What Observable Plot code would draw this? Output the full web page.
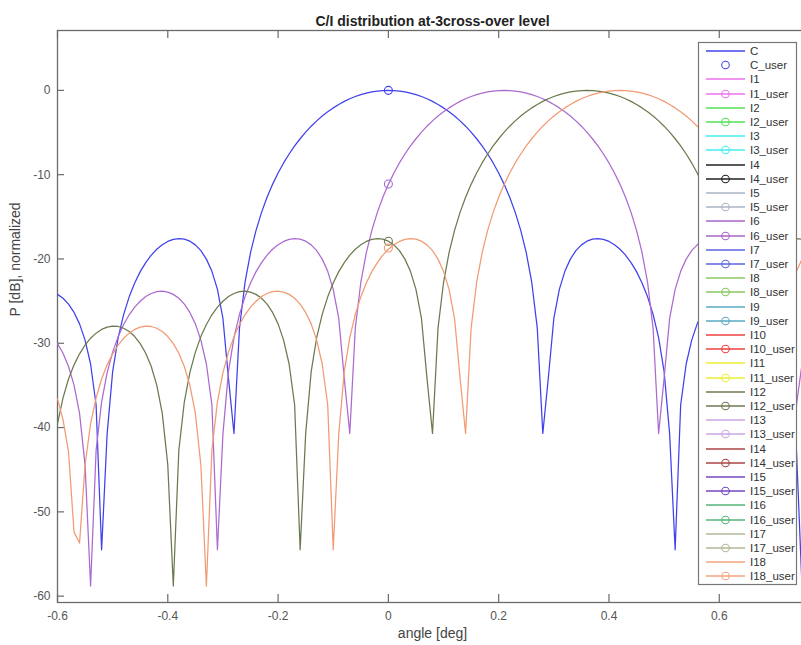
<!DOCTYPE html>
<html>
<head>
<meta charset="utf-8">
<script src="https://cdn.jsdelivr.net/npm/d3@7"></script>
<script src="https://cdn.jsdelivr.net/npm/@observablehq/plot@0.6"></script>
<style>
  html, body { margin: 0; padding: 0; background: #fff; overflow: hidden; }
  #chart { width: 807px; }
  #chart svg { display: block; max-width: none !important; width: 807px; height: 645px; }
</style>
</head>
<body>
<div id="chart"></div>
<script>
const titleText = "C/I distribution at-3cross-over level";
const xLabel = "angle [deg]";
const yLabel = "P [dB], normalized";
const xTicks = [-0.6, -0.4, -0.2, 0, 0.2, 0.4, 0.6];
const yTicks = [0, -10, -20, -30, -40, -50, -60];

const angle = [
  -0.6,-0.59,-0.58,-0.57,-0.56,-0.55,-0.54,-0.53,-0.52,-0.51,
  -0.5,-0.49,-0.48,-0.47,-0.46,-0.45,-0.44,-0.43,-0.42,-0.41,
  -0.4,-0.39,-0.38,-0.37,-0.36,-0.35,-0.34,-0.33,-0.32,-0.31,
  -0.3,-0.29,-0.28,-0.27,-0.26,-0.25,-0.24,-0.23,-0.22,-0.21,
  -0.2,-0.19,-0.18,-0.17,-0.16,-0.15,-0.14,-0.13,-0.12,-0.11,
  -0.1,-0.09,-0.08,-0.07,-0.06,-0.05,-0.04,-0.03,-0.02,-0.01,
  0,
  0.01,0.02,0.03,0.04,0.05,0.06,0.07,0.08,0.09,0.1,
  0.11,0.12,0.13,0.14,0.15,0.16,0.17,0.18,0.19,0.2,
  0.21,0.22,0.23,0.24,0.25,0.26,0.27,0.28,0.29,0.3,
  0.31,0.32,0.33,0.34,0.35,0.36,0.37,0.38,0.39,0.4,
  0.41,0.42,0.43,0.44,0.45,0.46,0.47,0.48,0.49,0.5,
  0.51,0.52,0.53,0.54,0.55,0.56,0.57,0.58,0.59,0.6,
  0.61,0.62,0.63,0.64,0.65,0.66,0.67,0.68,0.69,0.7,
  0.71,0.72,0.73,0.74,0.75,0.76
];

// C (carrier beam)
const cDb = [
  -24.2,-24.66,-25.36,-26.34,-27.7,-29.63,-32.46,-37.32,
  -54.5,-40.75,-33.37,-29.34,-26.57,-24.49,-22.84,-21.5,-20.43,-19.55,
  -18.85,-18.31,-17.92,-17.67,-17.58,-17.64,-17.89,-18.33,-19.01,-20.02,
  -21.47,-23.6,-27.06,-34.13,-40.7,-28.21,-22.79,-19.26,-16.61,-14.47,
  -12.69,-11.15,-9.8,-8.61,-7.55,-6.59,-5.74,-4.96,-4.25,-3.62,
  -3.05,-2.54,-2.08,-1.67,-1.31,-1.0,-0.73,-0.5,-0.32,-0.18,
  -0.08,-0.02,0,
  -0.02,-0.08,-0.18,-0.32,-0.5,-0.73,-1.0,-1.31,-1.67,-2.08,
  -2.54,-3.05,-3.62,-4.25,-4.96,-5.74,-6.59,-7.55,-8.61,-9.8,
  -11.15,-12.69,-14.47,-16.61,-19.26,-22.79,-28.21,-40.7,-34.13,-27.06,
  -23.6,-21.47,-20.02,-19.01,-18.33,-17.89,-17.64,-17.58,-17.67,-17.92,
  -18.31,-18.85,-19.55,-20.43,-21.5,-22.84,-24.49,-26.57,-29.34,-33.37,
  -40.75,-54.5,-37.32,-32.46,-29.63,-27.7,-26.34,-25.36,-24.66,-24.2,
  -23.93,-23.81,-23.88,-24.1,-24.46,-25.01,-25.71,-26.62,-27.77,-29.21,
  -31.05,-33.48,-36.94,-42.71,-58.8,-44.46
];

// I6 (purple)
const i6Db = [
  -30.04,-31.19,-32.75,-34.97,-38.32,-44.46,-58.8,-42.71,-36.94,
  -33.48,-31.05,-29.21,-27.77,-26.62,-25.71,-25.01,-24.46,-24.1,-23.88,
  -23.81,-23.93,-24.2,-24.66,-25.36,-26.34,-27.7,-29.63,-32.46,-37.32,
  -54.5,-40.75,-33.37,-29.34,-26.57,-24.49,-22.84,-21.5,-20.43,-19.55,
  -18.85,-18.31,-17.92,-17.67,-17.58,-17.64,-17.89,-18.33,-19.01,-20.02,
  -21.47,-23.6,-27.06,-34.13,-40.7,-28.21,-22.79,-19.26,-16.61,-14.47,
  -12.69,-11.15,-9.8,-8.61,-7.55,-6.59,-5.74,-4.96,-4.25,-3.62,
  -3.05,-2.54,-2.08,-1.67,-1.31,-1.0,-0.73,-0.5,-0.32,-0.18,
  -0.08,-0.02,0,
  -0.02,-0.08,-0.18,-0.32,-0.5,-0.73,-1.0,-1.31,-1.67,-2.08,
  -2.54,-3.05,-3.62,-4.25,-4.96,-5.74,-6.59,-7.55,-8.61,-9.8,
  -11.15,-12.69,-14.47,-16.61,-19.26,-22.79,-28.21,-40.7,-34.13,-27.06,
  -23.6,-21.47,-20.02,-19.01,-18.33,-17.89,-17.64,-17.58,-17.67,-17.92,
  -18.31,-18.85,-19.55,-20.43,-21.5,-22.84,-24.49,-26.57,-29.34,-33.37,
  -40.75,-54.5,-37.32,-32.46,-29.63
];

// I12 (olive)
const i12Db = [
  -39.53,-36.47,-34.24,-32.56,
  -31.25,-30.21,-29.4,-28.8,-28.36,-28.08,-27.97,-28.01,-28.22,-28.61,
  -29.2,-30.04,-31.19,-32.75,-34.97,-38.32,-44.46,-58.8,-42.71,-36.94,
  -33.48,-31.05,-29.21,-27.77,-26.62,-25.71,-25.01,-24.46,-24.1,-23.88,
  -23.81,-23.93,-24.2,-24.66,-25.36,-26.34,-27.7,-29.63,-32.46,-37.32,
  -54.5,-40.75,-33.37,-29.34,-26.57,-24.49,-22.84,-21.5,-20.43,-19.55,
  -18.85,-18.31,-17.92,-17.67,-17.58,-17.64,-17.89,-18.33,-19.01,-20.02,
  -21.47,-23.6,-27.06,-34.13,-40.7,-28.21,-22.79,-19.26,-16.61,-14.47,
  -12.69,-11.15,-9.8,-8.61,-7.55,-6.59,-5.74,-4.96,-4.25,-3.62,
  -3.05,-2.54,-2.08,-1.67,-1.31,-1.0,-0.73,-0.5,-0.32,-0.18,
  -0.08,-0.02,0,
  -0.02,-0.08,-0.18,-0.32,-0.5,-0.73,-1.0,-1.31,-1.67,-2.08,
  -2.54,-3.05,-3.62,-4.25,-4.96,-5.74,-6.59,-7.55,-8.61,-9.8,
  -11.15,-12.69,-14.47,-16.61,-19.26,-22.79,-28.21,-40.7,-34.13,-27.06,
  -23.6,-21.47,-20.02,-19.01,-18.33,-17.89,-17.64,-17.58,-17.67,-17.92
];

// I18 (orange)
const i18Db = [
  -36.6,-39.06,-42.9,-52.4,-53.7,-44.44,-39.53,-36.47,-34.24,-32.56,
  -31.25,-30.21,-29.4,-28.8,-28.36,-28.08,-27.97,-28.01,-28.22,-28.61,
  -29.2,-30.04,-31.19,-32.75,-34.97,-38.32,-44.46,-58.8,-42.71,-36.94,
  -33.48,-31.05,-29.21,-27.77,-26.62,-25.71,-25.01,-24.46,-24.1,-23.88,
  -23.81,-23.93,-24.2,-24.66,-25.36,-26.34,-27.7,-29.63,-32.46,-37.32,
  -54.5,-40.75,-33.37,-29.34,-26.57,-24.49,-22.84,-21.5,-20.43,-19.55,
  -18.85,-18.31,-17.92,-17.67,-17.58,-17.64,-17.89,-18.33,-19.01,-20.02,
  -21.47,-23.6,-27.06,-34.13,-40.7,-28.21,-22.79,-19.26,-16.61,-14.47,
  -12.69,-11.15,-9.8,-8.61,-7.55,-6.59,-5.74,-4.96,-4.25,-3.62,
  -3.05,-2.54,-2.08,-1.67,-1.31,-1.0,-0.73,-0.5,-0.32,-0.18,
  -0.08,-0.02,0,
  -0.02,-0.08,-0.18,-0.32,-0.5,-0.73,-1.0,-1.31,-1.67,-2.08,
  -2.54,-3.05,-3.62,-4.25,-4.96,-5.74,-6.59,-7.55,-8.61,-9.8,
  -11.15,-12.69,-14.47,-16.61,-19.26,-22.79,-28.21,-40.7,-34.13,-27.06,
  -23.6,-21.47,-20.02,-19.01
];

// user points (angle 0)
const userAngle = [0, 0, 0, 0];
const userDb = [0, -11.1, -17.9, -18.7];

// legend
const legendNames = ["C","C_user","I1","I1_user","I2","I2_user","I3","I3_user","I4","I4_user",
  "I5","I5_user","I6","I6_user","I7","I7_user","I8","I8_user","I9","I9_user",
  "I10","I10_user","I11","I11_user","I12","I12_user","I13","I13_user","I14","I14_user",
  "I15","I15_user","I16","I16_user","I17","I17_user","I18","I18_user"];
const seriesColors = ["#4545ee","#ee70ee","#55df55","#44eeee","#222222","#aab4c6","#a866c8",
  "#5865e0","#8ac960","#5aaac4","#ef4040","#eeee33","#6f7a50","#cba6e3","#aa4545",
  "#7448c4","#55b577","#b5b797","#f1a67e"];

const curveColors = {C: "#4040ee", I6: "#ab6ad0", I12: "#6b7a4e", I18: "#f29a72"};

const mk = (arr) => angle.map((a, i) => ({angle: a, db: arr[i]}));
const series = [
  {name: "C", data: mk(cDb), color: curveColors.C, u: 0},
  {name: "I6", data: mk(i6Db), color: curveColors.I6, u: 1},
  {name: "I12", data: mk(i12Db), color: curveColors.I12, u: 2},
  {name: "I18", data: mk(i18Db), color: curveColors.I18, u: 3}
];

const font = "Liberation Sans, Arial, Helvetica, sans-serif";
const axisColor = "#6a6a6a";

const marks = [
  Plot.frame({stroke: axisColor, strokeWidth: 1.3}),
  Plot.tickX(xTicks, {x: d => d, insetTop: 564, stroke: axisColor, strokeWidth: 1.2}),
  Plot.tickX(xTicks, {x: d => d, insetBottom: 564, stroke: axisColor, strokeWidth: 1.2}),
  Plot.tickY(yTicks, {y: d => d, insetRight: 743, stroke: axisColor, strokeWidth: 1.2}),
  Plot.axisX({ticks: xTicks, tickSize: 0, tickPadding: 9, tickFormat: d => String(d), label: null, fill: "#555", fontSize: 12}),
  Plot.axisY({ticks: yTicks, tickSize: 0, tickPadding: 7, tickFormat: d => String(d), label: null, fill: "#555", fontSize: 12})
];
for (const s of series) {
  marks.push(Plot.line(s.data, {x: "angle", y: "db", stroke: s.color, strokeWidth: 1.25, clip: true}));
  marks.push(Plot.dot([0], {x: () => userAngle[s.u], y: () => userDb[s.u], r: 4, stroke: s.color, fill: "none", strokeWidth: 1.1}));
}
marks.push(
  Plot.text([titleText], {frameAnchor: "top", dy: -14, fontWeight: "bold", fontSize: 14, fill: "#222"}),
  Plot.text([xLabel], {frameAnchor: "bottom", dy: 35, fontSize: 14, fill: "#444"}),
  Plot.text([yLabel], {frameAnchor: "left", dx: -42, rotate: -90, fontSize: 14, fill: "#444"})
);

const plot = Plot.plot({
  width: 807,
  height: 645,
  marginLeft: 57,
  marginRight: 0,
  marginTop: 30,
  marginBottom: 43,
  x: {domain: [-0.6, 0.76]},
  y: {domain: [-60.75, 7.1]},
  style: {fontFamily: font, fontSize: "12px", background: "#fff", color: "#555", maxWidth: "none"},
  marks
});

// legend box (drawn on top of the axes, as in the original)
const svg = d3.select(plot);
const g = svg.append("g").attr("font-family", font).attr("font-size", 11.5).attr("text-anchor", "start");
g.append("rect").attr("x", 698.5).attr("y", 42.5).attr("width", 98).attr("height", 542)
  .attr("fill", "#fff").attr("stroke", "#777").attr("stroke-width", 1.2);
legendNames.forEach((name, i) => {
  const y = Math.round(51 + i * 14.2);
  const color = seriesColors[Math.floor(i / 2)];
  const isUser = i % 2 === 1;
  if (name !== "C_user") {
    g.append("line").attr("x1", 706).attr("x2", 745).attr("y1", y).attr("y2", y)
      .attr("stroke", color).attr("stroke-width", 1.3);
  }
  if (isUser) {
    g.append("circle").attr("cx", 725.5).attr("cy", y).attr("r", 3.8)
      .attr("fill", "none").attr("stroke", color).attr("stroke-width", 1.1);
  }
  g.append("text").attr("x", 750).attr("y", y).attr("dy", "0.35em")
    .attr("text-anchor", "start").attr("fill", "#333").text(name);
});

document.getElementById("chart").appendChild(plot);
</script>
</body>
</html>
